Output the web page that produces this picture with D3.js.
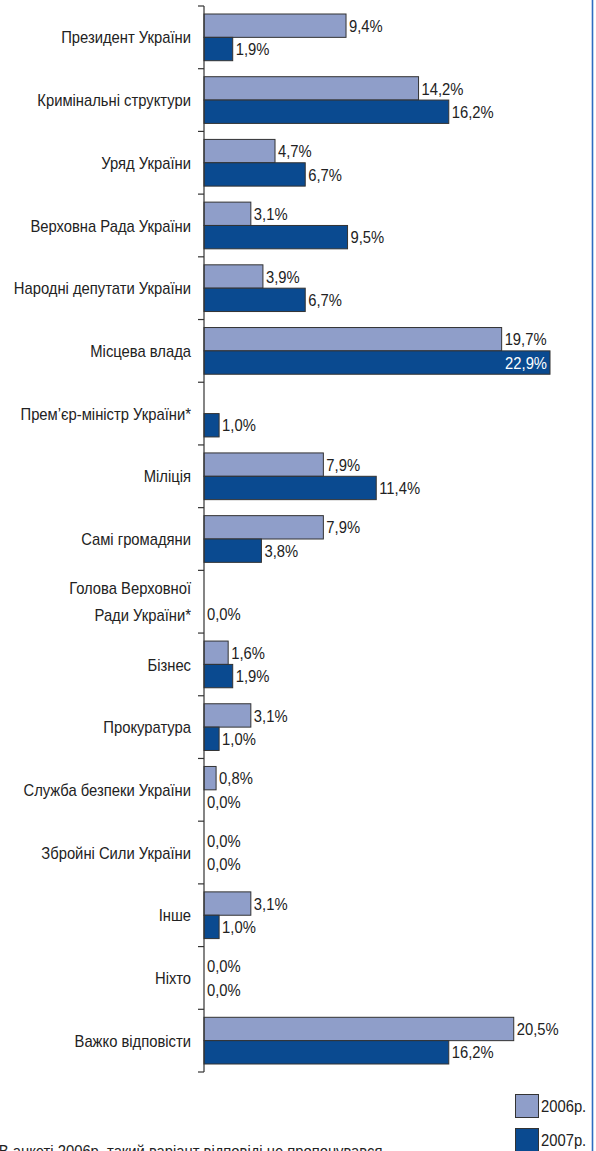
<!DOCTYPE html>
<html>
<head>
<meta charset="utf-8">
<script src="https://cdn.jsdelivr.net/npm/d3@7"></script>
<style>
  html, body { margin: 0; padding: 0; background: #fff; }
  svg { display: block; }
  text { font-family: "Liberation Sans", Arial, sans-serif; fill: #222; }
</style>
</head>
<body>
<svg id="chart" width="596" height="1151"></svg>
<script>
const categories = [
  ["Президент України"],
  ["Кримінальні структури"],
  ["Уряд України"],
  ["Верховна Рада України"],
  ["Народні депутати України"],
  ["Місцева влада"],
  ["Прем’єр-міністр України*"],
  ["Міліція"],
  ["Самі громадяни"],
  ["Голова Верховної", "Ради України*"],
  ["Бізнес"],
  ["Прокуратура"],
  ["Служба безпеки України"],
  ["Збройні Сили України"],
  ["Інше"],
  ["Ніхто"],
  ["Важко відповісти"]
];
const values2006 = [9.4, 14.2, 4.7, 3.1, 3.9, 19.7, null, 7.9, 7.9, null, 1.6, 3.1, 0.8, 0.0, 3.1, 0.0, 20.5];
const values2007 = [1.9, 16.2, 6.7, 9.5, 6.7, 22.9, 1.0, 11.4, 3.8, 0.0, 1.9, 1.0, 0.0, 0.0, 1.0, 0.0, 16.2];
const seriesNames = ["2006р.", "2007р."];
const seriesColors = ["#8f9ec9", "#0a4a90"];
const footnote = "* В анкеті 2006р. такий варіант відповіді не пропонувався";

const svg = d3.select("#chart");
const axisX = 204;
const plotTop = 6, plotBottom = 1072;
const fs = 17, sx = 0.87;

// condensed text helper
function ctext(parent, xPos, yPos, str, anchor, color) {
  return parent.append("text")
    .attr("transform", `translate(${xPos},${yPos}) scale(${sx},1)`)
    .attr("dy", "0.36em")
    .attr("text-anchor", anchor || "start")
    .attr("font-size", fs)
    .style("fill", color || "#222")
    .text(str);
}

const y = d3.scaleBand().domain(d3.range(categories.length)).range([plotTop, plotBottom]).padding(0);
const bw = y.bandwidth();
const ySub = d3.scaleBand().domain([0, 1]).range([8, bw - 8]).padding(0);
const x = d3.scaleLinear().domain([0, 22.9]).range([axisX, 550]);
const fmt = v => d3.format(".1f")(v).replace(".", ",") + "%";

// right border
svg.append("line").attr("x1", 592.5).attr("x2", 592.5).attr("y1", 0).attr("y2", 1151)
  .attr("stroke", "#2e6cc0").attr("stroke-width", 1.6);

const series = [values2006, values2007];
const g = svg.append("g");

series.forEach((vals, si) => {
  vals.forEach((v, i) => {
    if (v === null) return;
    const by = y(i) + ySub(si);
    const bh = ySub.bandwidth();
    if (v > 0) {
      g.append("rect")
        .attr("x", x(0)).attr("y", by)
        .attr("width", x(v) - x(0)).attr("height", bh)
        .attr("fill", seriesColors[si]).attr("stroke", "#333").attr("stroke-width", 1);
    }
    const inside = v >= 22;
    ctext(g, inside ? x(v) - 3 : x(v) + 3, by + bh / 2, fmt(v),
      inside ? "end" : "start", inside ? "#fff" : "#222");
  });
});

// axis line and ticks at band boundaries
const axis = svg.append("g");
axis.append("line").attr("x1", axisX).attr("x2", axisX).attr("y1", plotTop).attr("y2", plotBottom)
  .attr("stroke", "#333").attr("stroke-width", 1.2);
d3.range(categories.length + 1).forEach(k => {
  const ty = plotTop + k * bw;
  axis.append("line").attr("x1", axisX - 6).attr("x2", axisX).attr("y1", ty).attr("y2", ty)
    .attr("stroke", "#333").attr("stroke-width", 1.2);
});

// category labels
categories.forEach((lines, i) => {
  const cy = y(i) + bw / 2;
  const lh = 27;
  lines.forEach((ln, j) => {
    ctext(axis, 191, cy + (j - (lines.length - 1) / 2) * lh, ln, "end");
  });
});

// legend
const leg = svg.append("g");
seriesNames.forEach((n, i) => {
  const ly = 1094 + i * 34;
  leg.append("rect").attr("x", 515.5).attr("y", ly + 0.5).attr("width", 23).attr("height", 23)
    .attr("fill", seriesColors[i]).attr("stroke", "#333").attr("stroke-width", 1);
  ctext(leg, 541, ly + 12, n, "start");
});

// footnote (cut off at the bottom, as in the source)
ctext(svg, -11, 1151, footnote, "start");
</script>
</body>
</html>
